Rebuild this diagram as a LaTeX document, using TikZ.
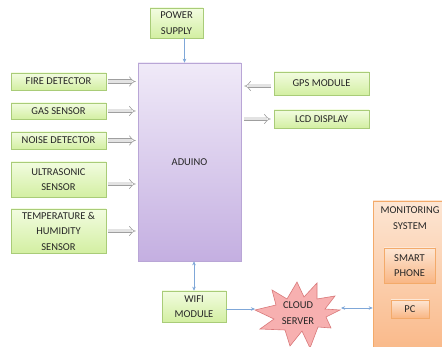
\documentclass[tikz,border=0pt]{standalone}
\usepackage{fontspec}
\setmainfont{Carlito}
\usetikzlibrary{arrows.meta,shadows}
\definecolor{txt}{HTML}{262626}
\definecolor{grnT}{HTML}{F2FCE0}
\definecolor{grnB}{HTML}{D3EFA2}
\definecolor{grnD}{HTML}{A9CC78}
\definecolor{purT}{HTML}{F0EAF8}
\definecolor{purB}{HTML}{C4AFE1}
\definecolor{purD}{HTML}{B9A6D6}
\definecolor{orT}{HTML}{FDE6D4}
\definecolor{orB}{HTML}{F9B684}
\definecolor{orD}{HTML}{F3AA6A}
\definecolor{pinkF}{HTML}{F7B0B0}
\definecolor{pinkD}{HTML}{D9797A}
\definecolor{blueL}{HTML}{7FA7D8}
\begin{document}
\begin{tikzpicture}[x=1pt,y=-1pt,
  every node/.style={font=\fontsize{10.5}{15.5}\selectfont, text=txt, align=center, inner sep=0pt},
  shad/.style={drop shadow={opacity=0.25, shadow xshift=0.8pt, shadow yshift=-0.8pt}},
  gbox/.style={rectangle, draw=grnD, line width=0.6pt, top color=grnT, bottom color=grnB, shad, minimum width=95pt},
  pbox/.style={rectangle, draw=purD, line width=0.6pt, top color=purT, bottom color=purB, shad},
  obox/.style={rectangle, draw=orD, line width=0.6pt, top color=orT, bottom color=orB, shad},
  fat/.style={draw=gray!75, line width=0.6pt, double=gray!22, double distance=3pt, -{Implies}, shorten <=2pt, shorten >=2pt},
  arr/.style={draw=blueL, line width=0.6pt, -{Stealth[length=4pt,width=3.5pt]}},
  biarr/.style={draw=blueL, line width=0.6pt, {Stealth[length=4pt,width=3.5pt]}-{Stealth[length=4pt,width=3.5pt]}},
  starst/.style={draw=pinkD, fill=pinkF, line width=0.6pt, line join=miter}
]
\clip (0,0) rectangle (442,347);
\fill[white] (0,0) rectangle (442,347);

\node[gbox, minimum width=53pt, minimum height=30pt] (power) at (176.5,23) {POWER\\SUPPLY};
\node[pbox, minimum width=103pt, minimum height=198pt] (ard) at (189.5,162) {ADUINO};

\node[gbox, minimum height=17pt] (fire) at (58.5,81.5) {FIRE DETECTOR};
\node[gbox, minimum height=16pt] (gas) at (58.5,111) {GAS SENSOR};
\node[gbox, minimum height=17pt] (noise) at (58.5,140.5) {NOISE DETECTOR};
\node[gbox, minimum height=35pt] (ultra) at (58.5,179.5) {ULTRASONIC\\SENSOR};
\node[gbox, minimum height=44pt] (temp) at (58.5,231) {TEMPERATURE \&\\HUMIDITY\\SENSOR};

\node[gbox, minimum height=23pt] (gps) at (321.5,83.5) {GPS MODULE};
\node[gbox, minimum height=18pt] (lcd) at (321.5,119) {LCD DISPLAY};

\node[gbox, minimum width=64pt, minimum height=31pt] (wifi) at (194,306.5) {WIFI\\MODULE};

\node[obox, minimum width=74pt, minimum height=159pt,
  label={[anchor=north, yshift=-6pt]north:{MONITORING\\SYSTEM}}] (mon) at (410,280.5) {};
\node[obox, minimum width=51pt, minimum height=35pt] (phone) at (409.5,265.5) {SMART\\PHONE};
\node[obox, minimum width=38pt, minimum height=18pt] (pc) at (410,309) {PC};

% cloud server star
\begin{scope}[shift={(298,309)}]
\draw[starst] (-43,1) -- (-22,-4) -- (-26,-19) -- (-11,-10) -- (-1,-27) -- (6,-12) -- (19,-26)
  -- (19,-10) -- (37,-13) -- (27,0) -- (42,1) -- (28,8) -- (33,19) -- (20,18) -- (12,39)
  -- (4,22) -- (-8,37) -- (-13,21) -- (-38,20) -- (-24,10) -- cycle;
\end{scope}
\node[minimum width=84pt, minimum height=20pt] (cloud) at (298,313) {CLOUD\\SERVER};

% connectors
\coordinate (pw) at ([xshift=8pt]power.south);
\draw[arr] (pw) -- (pw |- ard.north);

\draw[fat] (fire) -- (fire -| ard.west);
\draw[fat] (gas) -- (gas -| ard.west);
\draw[fat] (noise) -- (noise -| ard.west);
\coordinate (u1) at ([yshift=-4.5pt]ultra.east);
\draw[fat] (u1) -- (u1 -| ard.west);
\draw[fat] (temp) -- (temp -| ard.west);

\coordinate (g1) at ([yshift=-2.5pt]gps.west);
\draw[fat, shorten <=3pt, shorten >=3pt] (g1) -- (g1 -| ard.east);
\draw[fat, shorten <=3pt, shorten >=3pt] (lcd -| ard.east) -- (lcd);

\draw[biarr] (wifi) -- (wifi |- ard.south);
\coordinate (w1) at ([yshift=-2.5pt]wifi.east);
\coordinate (c1) at (255,309);
\draw[arr] (w1) -- (c1);
\coordinate (c2) at (341,308);
\draw[biarr] (c2) -- (c2 -| mon.west);
\end{tikzpicture}
\end{document}
